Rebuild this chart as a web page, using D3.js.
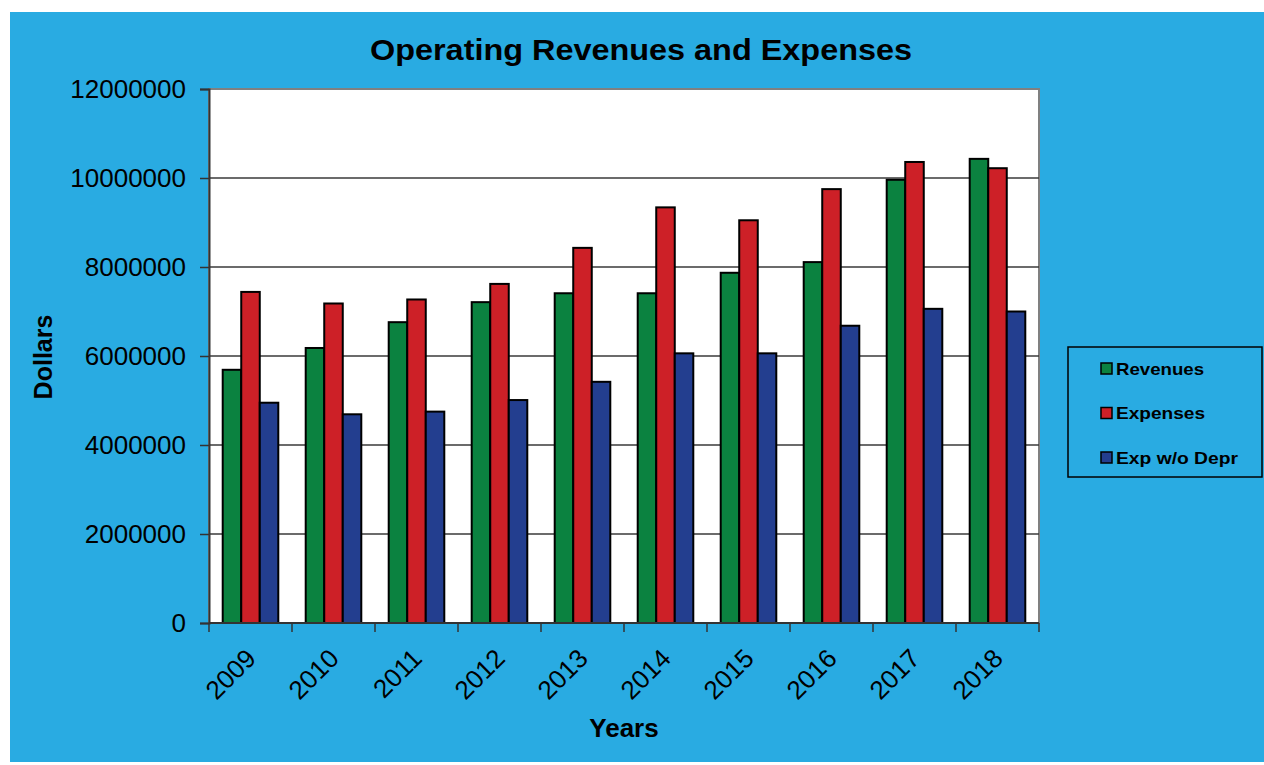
<!DOCTYPE html>
<html>
<head>
<meta charset="utf-8">
<script src="https://cdn.jsdelivr.net/npm/d3@7"></script>
<style>
  html, body { margin: 0; padding: 0; background: #ffffff; }
  svg { display: block; }
  text { font-family: "Liberation Sans", Arial, sans-serif; }
</style>
</head>
<body>
<svg id="chart" width="1264" height="765"></svg>
<script>
const years = ["2009","2010","2011","2012","2013","2014","2015","2016","2017","2018"];
const seriesNames = ["Revenues", "Expenses", "Exp w/o Depr"];
const revenues = [5690000, 6180000, 6760000, 7210000, 7410000, 7410000, 7870000, 8110000, 9960000, 10430000];
const expenses = [7440000, 7180000, 7270000, 7620000, 8430000, 9340000, 9050000, 9750000, 10360000, 10220000];
const expWoDepr = [4950000, 4690000, 4750000, 5010000, 5420000, 6060000, 6060000, 6680000, 7060000, 7000000];
const yTicks = [0, 2000000, 4000000, 6000000, 8000000, 10000000, 12000000];
const colors = ["#0b8240", "#cd2027", "#233e8f"];

const seriesData = [revenues, expenses, expWoDepr];

const svg = d3.select("#chart");
// background panel
svg.append("rect").attr("x", 10).attr("y", 12).attr("width", 1254).attr("height", 750).attr("fill", "#29abe2");

const pL = 209, pR = 1039, pT = 89, pB = 623;

const x = d3.scaleBand().domain(years).range([pL, pR]).paddingInner(0).paddingOuter(0);
const x1 = d3.scaleBand().domain(seriesNames).range([0, x.bandwidth()]).paddingInner(0).paddingOuter(0.74);
const y = d3.scaleLinear().domain([0, 12000000]).range([pB, pT]);

// plot area
svg.append("rect").attr("x", pL).attr("y", pT).attr("width", pR - pL).attr("height", pB - pT)
  .attr("fill", "#ffffff").attr("stroke", "#808080").attr("stroke-width", 2);

// gridlines
svg.append("g").selectAll("line").data(yTicks.filter(d => d > 0 && d < 12000000)).join("line")
  .attr("x1", pL).attr("x2", pR).attr("y1", d => y(d)).attr("y2", d => y(d))
  .attr("stroke", "#3a3a3a").attr("stroke-width", 1.5);

// bars
const groups = svg.append("g").selectAll("g").data(years).join("g")
  .attr("transform", d => `translate(${x(d)},0)`);
groups.selectAll("rect").data((d, i) => seriesNames.map((s, j) => ({ s, j, v: seriesData[j][i] }))).join("rect")
  .attr("x", d => x1(d.s)).attr("width", x1.bandwidth())
  .attr("y", d => y(d.v)).attr("height", d => y(0) - y(d.v))
  .attr("fill", d => colors[d.j]).attr("stroke", "#000").attr("stroke-width", 2);

// y axis
const yAxis = d3.axisLeft(y).tickValues(yTicks).tickFormat(d3.format("d")).tickSize(9).tickPadding(14);
const gy = svg.append("g").attr("transform", `translate(${pL},0)`).call(yAxis);
gy.select(".domain").attr("stroke", "#333").attr("stroke-width", 2);
gy.selectAll(".tick line").attr("stroke", "#333").attr("stroke-width", 1.5);
gy.selectAll(".tick text").attr("font-size", 26).attr("fill", "#000")
  .attr("font-family", "'Liberation Sans', Arial, sans-serif");

// x axis
const xTickScale = d3.scaleLinear().domain([0, years.length]).range([pL, pR]);
const gx = svg.append("g");
gx.append("line").attr("x1", pL).attr("x2", pR).attr("y1", pB).attr("y2", pB)
  .attr("stroke", "#333").attr("stroke-width", 2);
gx.selectAll("line.t").data(d3.range(years.length + 1)).join("line").attr("class", "t")
  .attr("x1", d => xTickScale(d)).attr("x2", d => xTickScale(d))
  .attr("y1", pB).attr("y2", pB + 9).attr("stroke", "#333").attr("stroke-width", 1.5);
gx.selectAll("text").data(years).join("text")
  .attr("transform", d => `translate(${x(d) + x.bandwidth() / 2 + 7},${pB + 37}) rotate(-45)`)
  .attr("text-anchor", "end").attr("font-size", 26).attr("fill", "#000").text(d => d);

// title
svg.append("text").attr("x", 641).attr("y", 60).attr("text-anchor", "middle")
  .attr("font-size", 30).attr("font-weight", "bold").attr("textLength", 542).attr("lengthAdjust", "spacingAndGlyphs")
  .text("Operating Revenues and Expenses");

// axis titles
svg.append("text").attr("x", 624).attr("y", 737).attr("text-anchor", "middle")
  .attr("font-size", 26).attr("font-weight", "bold").text("Years");
svg.append("text").attr("transform", "translate(52,357) rotate(-90)").attr("text-anchor", "middle")
  .attr("font-size", 25).attr("font-weight", "bold").text("Dollars");

// legend
const legend = svg.append("g");
legend.append("rect").attr("x", 1068).attr("y", 347).attr("width", 194).attr("height", 130)
  .attr("fill", "none").attr("stroke", "#000").attr("stroke-width", 1.5);
const legendWidths = [88, 89, 122];
const li = legend.selectAll("g").data(seriesNames).join("g")
  .attr("transform", (d, i) => `translate(1101,${363 + i * 44.5})`);
li.append("rect").attr("width", 11).attr("height", 11)
  .attr("fill", (d, i) => colors[i]).attr("stroke", "#000").attr("stroke-width", 1.5);
li.append("text").attr("x", 15).attr("y", 11.5).attr("font-size", 17).attr("font-weight", "bold")
  .attr("textLength", (d, i) => legendWidths[i]).attr("lengthAdjust", "spacingAndGlyphs")
  .text(d => d);
</script>
</body>
</html>
